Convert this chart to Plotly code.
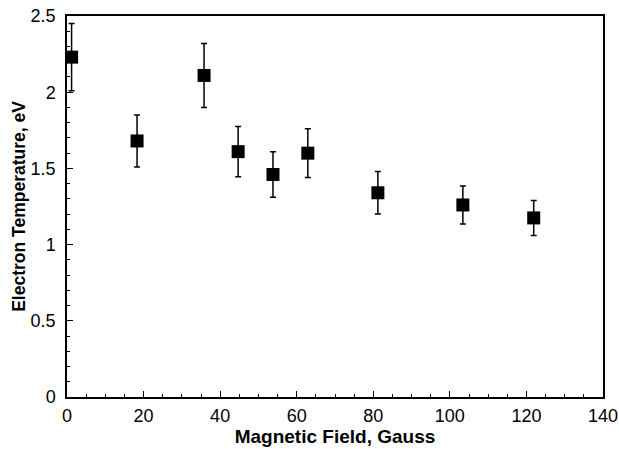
import plotly.graph_objects as go

field = [1.2, 18.3, 35.8, 44.7, 53.8, 62.9, 81.2, 103.4, 121.9]
temp = [2.23, 1.68, 2.11, 1.61, 1.46, 1.60, 1.34, 1.26, 1.175]
err = [0.22, 0.17, 0.21, 0.165, 0.15, 0.16, 0.14, 0.125, 0.115]

fig = go.Figure()
fig.add_trace(go.Scatter(
    x=field, y=temp, mode="markers",
    marker=dict(symbol="square", size=13, color="black"),
    error_y=dict(type="data", array=err, visible=True, color="black", thickness=1.5, width=3),
    showlegend=False,
    cliponaxis=False,
))

font = dict(family="Liberation Sans, Arial, sans-serif", color="black")
fig.update_layout(
    width=619, height=449,
    margin=dict(l=67, r=16, t=16, b=52, autoexpand=False),
    paper_bgcolor="white", plot_bgcolor="white",
    font=dict(size=18, **font),
    xaxis=dict(
        range=[0, 140], tick0=0, dtick=20, ticks="inside", ticklen=6, tickwidth=1,
        minor=dict(dtick=5, ticks="inside", ticklen=3, tickwidth=1, tickcolor="black"),
        showline=True, linecolor="black", linewidth=1.5, mirror=True, showgrid=False, zeroline=False,
        tickcolor="black", automargin=False, ticklabelstandoff=2, ticklabeloverflow="allow",
        title=dict(text="<b>Magnetic Field, Gauss</b>", standoff=2, font=dict(size=19, **font)),
    ),
    yaxis=dict(
        range=[0, 2.5], tick0=0, dtick=0.5, ticks="inside", ticklen=6, tickwidth=1,
        minor=dict(dtick=0.1, ticks="inside", ticklen=3, tickwidth=1, tickcolor="black"),
        showline=True, linecolor="black", linewidth=1.5, mirror=True, showgrid=False, zeroline=False,
        tickcolor="black", automargin=False, ticklabelstandoff=6, ticklabeloverflow="allow",
        title=dict(text="<b>Electron Temperature, eV</b>", standoff=0, font=dict(size=17.5, **font)),
    ),
)
fig.write_html(
    "out.html",
    config={"displayModeBar": False},
    post_script="document.body.style.margin='0';document.body.style.overflow='hidden';",
)
